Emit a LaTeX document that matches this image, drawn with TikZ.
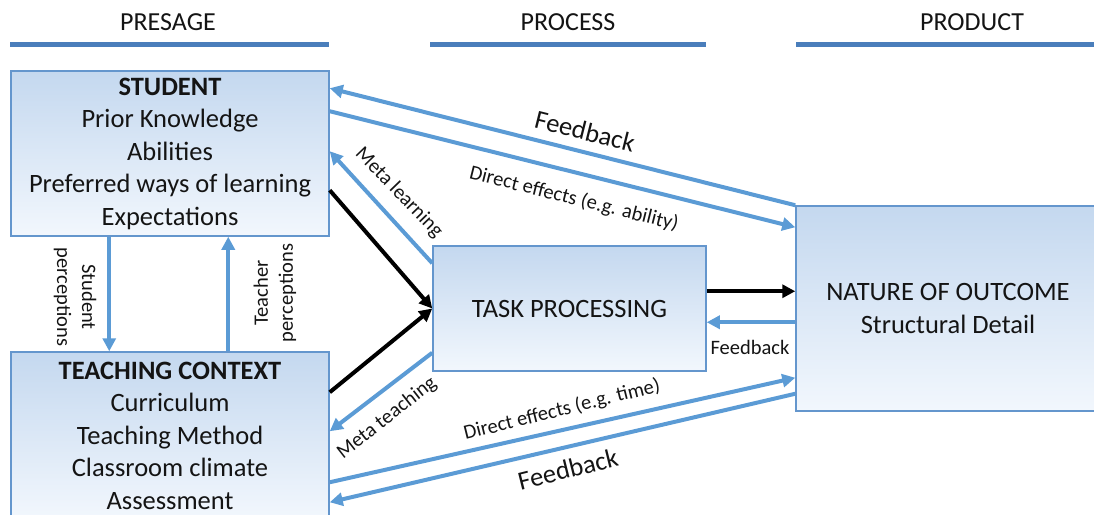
\documentclass[tikz,border=0pt]{standalone}
\usepackage{fontspec}
\setmainfont{Carlito}
\usetikzlibrary{arrows.meta,calc}
\definecolor{lineblue}{RGB}{91,155,213}
\definecolor{boxedge}{RGB}{100,150,205}
\definecolor{boxtop}{RGB}{196,216,239}
\definecolor{boxbot}{RGB}{242,247,253}
\definecolor{headblue}{RGB}{74,126,187}
\definecolor{txt}{RGB}{20,20,20}
\begin{document}
\begin{tikzpicture}[x=1pt,y=-1pt,
  box/.style={draw=boxedge,line width=1.5pt,top color=boxtop,bottom color=boxbot,rectangle,inner sep=0pt,align=center,text=txt,font=\fontsize{26.5}{32.5}\selectfont},
  bl/.style={draw=lineblue,line width=4pt,-{Triangle[length=13pt,width=13pt]}},
  bk/.style={draw=black,line width=4pt,-{Triangle[length=13pt,width=13pt]}},
  lab/.style={text=txt,font=\fontsize{20.5}{25}\selectfont,inner sep=0pt,align=center},
  big/.style={text=txt,font=\fontsize{26.5}{30}\selectfont,inner sep=0pt},
  head/.style={text=txt,font=\fontsize{26}{30}\selectfont,inner sep=0pt},
  hline/.style={draw=headblue,line width=5pt}]
\useasboundingbox (0,0) rectangle (1094,514);
\clip (0,0) rectangle (1094,514);
% headings
\node[head] (hpre) at (168,22) {PRESAGE};
\node[head] (hpro) at (568,22) {PROCESS};
\node[head] (hprd) at (972,22) {PRODUCT};
\draw[hline] (10,44) -- (329,44);
\draw[hline] (430,44) -- (706,44);
\draw[hline] (796,44) -- (1094,44);
% boxes
\node[box,minimum width=318pt,minimum height=165pt] (student) at (170,153.5)
  {\textbf{STUDENT}\\Prior Knowledge\\Abilities\\Preferred ways of learning\\Expectations};
\node[box,minimum width=318pt,minimum height=167pt] (teach) at (170,435.5)
  {\textbf{TEACHING CONTEXT}\\Curriculum\\Teaching Method\\Classroom climate\\Assessment};
\node[box,minimum width=273pt,minimum height=125pt] (task) at (569.5,308.5) {TASK PROCESSING};
\node[box,minimum width=304pt,minimum height=205pt] (nature) at (948,308.5)
  {NATURE OF OUTCOME\\Structural Detail};
% connectors
\draw[bl] (nature.north west) -- ([yshift=-18pt]student.north east);
\draw[bl] ([yshift=-41pt]student.north east) -- ([yshift=-22pt]nature.north west);
\draw[bl] ([yshift=-18pt]task.north west) -- ([yshift=-81pt]student.north east);
\draw[bk] ([yshift=-120pt]student.north east) -- (task.west);
\draw[bk] ([yshift=-41pt]teach.north east) -- (task.west);
\draw[bl] ([yshift=19pt]task.south west) -- ([yshift=-80pt]teach.north east);
\draw[bl] ([yshift=-131pt]teach.north east) -- ([yshift=34pt]nature.south west);
\draw[bl] ([yshift=18pt]nature.south west) -- ([yshift=-151pt]teach.north east);
\draw[bk] ([yshift=-46pt]task.north east) -- ([yshift=-86pt]nature.north west);
\draw[bl] ([yshift=-117pt]nature.north west) -- ([yshift=-77pt]task.north east);
\draw[bl] ([xshift=99pt]student.south west) -- ([xshift=99pt]teach.north west);
\draw[bl] ([xshift=218pt]teach.north west) -- ([xshift=218pt]student.south west);
% labels
\node[big,rotate=-14] (lfb1) at (585,131) {Feedback};
\node[lab,rotate=-14] (lde1) at (574,199) {Direct effects (e.g. ability)};
\node[lab,rotate=-46] (lml) at (399,193) {Meta learning};
\node[lab,rotate=38] (lmt) at (387,418) {Meta teaching};
\node[lab,rotate=14] (lde2) at (562,410) {Direct effects (e.g. time)};
\node[big,rotate=14] (lfb2) at (568,469) {Feedback};
\node[lab] (lfb3) at (750,347) {Feedback};
\node[lab,rotate=-90] (lsp) at (75,297) {Student\\perceptions};
\node[lab,rotate=90] (ltp) at (275,293) {Teacher\\perceptions};
\end{tikzpicture}
\end{document}
